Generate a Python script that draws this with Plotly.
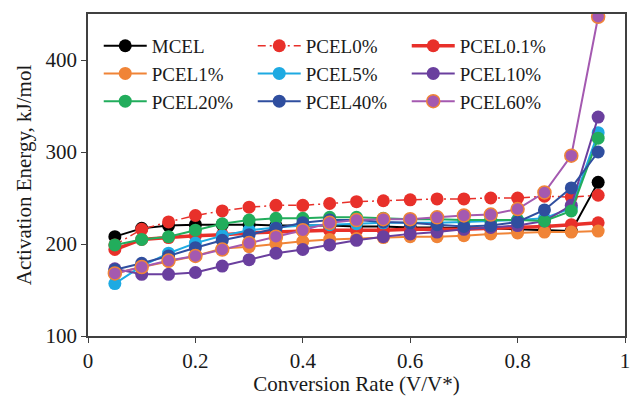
import plotly.graph_objects as go

x = [0.05, 0.10, 0.15, 0.20, 0.25, 0.30, 0.35, 0.40, 0.45, 0.50,
     0.55, 0.60, 0.65, 0.70, 0.75, 0.80, 0.85, 0.90, 0.95]

names = ["MCEL", "PCEL0%", "PCEL0.1%", "PCEL1%", "PCEL5%",
         "PCEL10%", "PCEL20%", "PCEL40%", "PCEL60%"]

mcel    = [208, 217, 220, 221, 221, 221, 220, 220, 220, 219, 219, 218, 218, 217, 217, 216, 215, 214, 267]
pcel0   = [199, 216, 224, 231, 236, 240, 242, 242, 244, 246, 247, 248, 249, 249, 250, 250, 252, 251, 253]
pcel01  = [194, 205, 207, 209, 210, 212, 213, 214, 215, 215, 215, 216, 216, 216, 217, 218, 219, 221, 223]
pcel1   = [168, 175, 181, 187, 195, 197, 200, 203, 205, 206, 207, 208, 208, 209, 211, 212, 213, 213, 214]
pcel5   = [157, 176, 190, 201, 209, 215, 218, 220, 221, 222, 223, 223, 223, 224, 225, 226, 228, 239, 321]
pcel10  = [173, 167, 167, 169, 176, 183, 190, 194, 199, 204, 208, 211, 213, 216, 218, 220, 225, 242, 338]
pcel20  = [199, 205, 208, 215, 222, 226, 228, 228, 229, 229, 228, 227, 227, 226, 226, 226, 225, 236, 315]
pcel40  = [172, 179, 187, 196, 204, 210, 217, 223, 226, 226, 224, 223, 221, 219, 220, 224, 237, 261, 300]
pcel60  = [168, 175, 182, 187, 194, 201, 208, 215, 223, 226, 227, 227, 229, 231, 232, 238, 256, 296, 447]

series = [mcel, pcel0, pcel01, pcel1, pcel5, pcel10, pcel20, pcel40, pcel60]
colors = ["#000000", "#e8302a", "#e8302a", "#f08437", "#1eaae2",
          "#6a3f9e", "#22ad5c", "#2f4e9f", "#a459b0"]

xticks = [0, 0.2, 0.4, 0.6, 0.8, 1]
xticklabels = ["0", "0.2", "0.4", "0.6", "0.8", "1"]
yticks = [100, 200, 300, 400]

fig = go.Figure()
for i, (nm, ys, col) in enumerate(zip(names, series, colors)):
    line = dict(color=col, width=2)
    if nm == "PCEL0%":
        line = dict(color=col, width=1.5, dash="8px,4px,2px,4px")
    elif nm == "PCEL0.1%":
        line = dict(color=col, width=3.5)
    marker = dict(size=13, color=col)
    if nm == "PCEL60%":
        marker = dict(size=13, color=col, line=dict(color="#f08437", width=1.5))
    fig.add_trace(go.Scatter(x=x, y=ys, name=nm, mode="lines+markers",
                             line=line, marker=marker))

font = "Liberation Serif"
fig.update_layout(
    width=636, height=396,
    margin=dict(l=88, r=6, t=14, b=57),
    paper_bgcolor="white", plot_bgcolor="white",
    font=dict(family=font, size=20, color="#1a1a1a"),
    showlegend=True,
    legend=dict(orientation="h", x=0.02, y=0.96, xanchor="left", yanchor="top",
                entrywidth=96, entrywidthmode="pixels", itemwidth=43,
                font=dict(family=font, size=19, color="#1a1a1a"),
                bgcolor="rgba(0,0,0,0)", traceorder="normal"),
    xaxis=dict(range=[0, 1], tickvals=xticks, ticktext=xticklabels,
               showgrid=False, zeroline=False, showline=True, linecolor="#404040",
               linewidth=1.5, mirror=True, ticks="outside", ticklen=5,
               tickcolor="#404040", tickfont=dict(family=font, size=21),
               title=dict(text="Conversion Rate (V/V*)", font=dict(family=font, size=21),
                          standoff=2)),
    yaxis=dict(range=[100, 450], tickvals=yticks,
               showgrid=False, zeroline=False, showline=True, linecolor="#404040",
               linewidth=1.5, mirror=True, ticks="outside", ticklen=5,
               tickcolor="#404040", tickfont=dict(family=font, size=21),
               title=dict(text="Activation Energy, kJ/mol", font=dict(family=font, size=21),
                          standoff=8)),
)

fig.write_html("out.html")
